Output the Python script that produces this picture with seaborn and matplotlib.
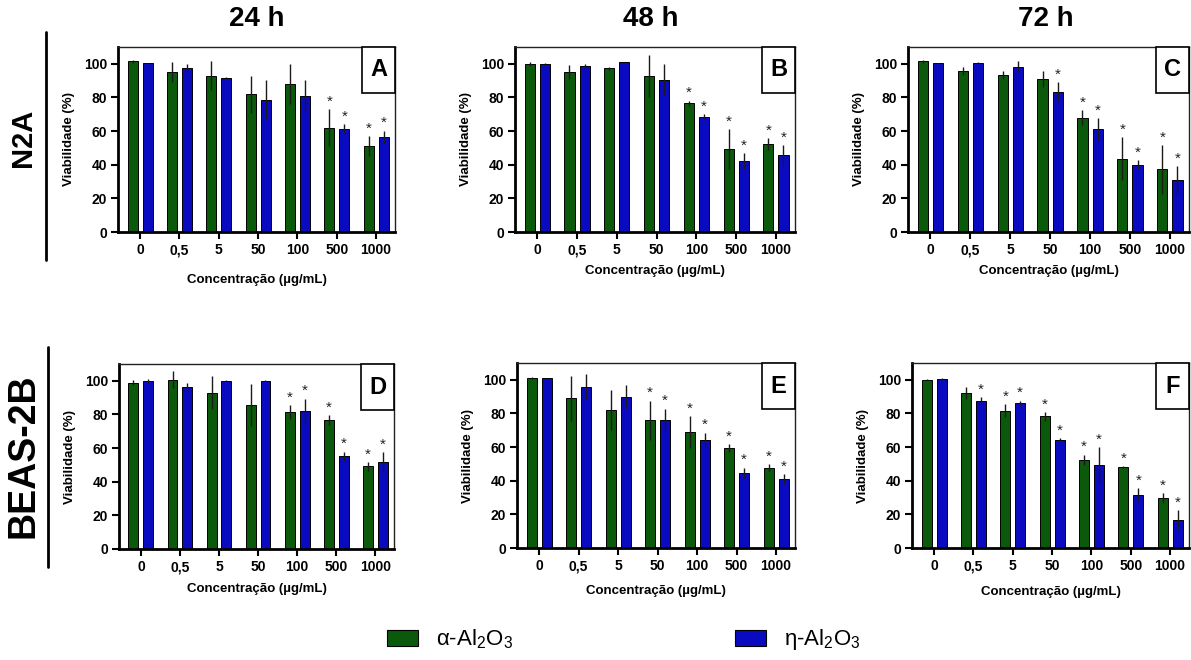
import numpy as np
import pandas as pd
import seaborn as sns
import matplotlib
matplotlib.use("Agg")
import matplotlib.pyplot as plt
from matplotlib.patches import Rectangle, Patch
from matplotlib.lines import Line2D

# ---------------- data ----------------
concs = ["0", "0,5", "5", "50", "100", "500", "1000"]
materials = ["alpha", "eta"]
legend_labels = ["α-Al$_2$O$_3$", "η-Al$_2$O$_3$"]

# N2A 24 h (A)
a_alpha = [101.5, 95.2, 93.0, 82.0, 88.0, 62.0, 51.0]
a_alpha_err = [0.8, 5.8, 8.5, 11.0, 12.0, 11.0, 6.0]
a_eta = [100.4, 97.8, 91.8, 78.7, 81.0, 61.5, 56.5]
a_eta_err = [0.3, 2.0, 0.5, 11.5, 9.5, 2.5, 3.8]
a_alpha_sig = [0, 0, 0, 0, 0, 1, 1]
a_eta_sig = [0, 0, 0, 0, 0, 1, 1]

# N2A 48 h (B)
b_alpha = [100.0, 95.2, 97.4, 93.0, 76.5, 49.2, 52.2]
b_alpha_err = [1.0, 4.0, 1.0, 12.5, 1.5, 12.0, 3.6]
b_eta = [100.0, 98.6, 101.0, 90.6, 68.5, 42.0, 45.8]
b_eta_err = [0.3, 1.5, 0.2, 9.4, 1.5, 4.8, 5.8]
b_alpha_sig = [0, 0, 0, 0, 1, 1, 1]
b_eta_sig = [0, 0, 0, 0, 1, 1, 1]

# N2A 72 h (C)
c_alpha = [101.4, 96.0, 93.4, 91.0, 68.0, 43.6, 37.2]
c_alpha_err = [0.8, 2.4, 2.2, 4.6, 4.5, 12.6, 14.4]
c_eta = [100.4, 100.6, 98.4, 83.5, 61.0, 40.0, 31.0]
c_eta_err = [0.3, 0.2, 3.0, 5.5, 6.5, 2.8, 8.2]
c_alpha_sig = [0, 0, 0, 0, 1, 1, 1]
c_eta_sig = [0, 0, 0, 1, 1, 1, 1]

# BEAS-2B 24 h (D)
d_alpha = [99.0, 100.6, 93.0, 85.7, 81.5, 76.5, 49.2]
d_alpha_err = [1.5, 5.0, 10.0, 12.7, 4.0, 3.0, 2.6]
d_eta = [100.0, 96.6, 100.0, 100.0, 82.0, 55.2, 51.6]
d_eta_err = [1.0, 2.4, 0.2, 0.2, 7.4, 2.6, 6.0]
d_alpha_sig = [0, 0, 0, 0, 1, 1, 1]
d_eta_sig = [0, 0, 0, 0, 1, 1, 1]

# BEAS-2B 48 h (E)
e_alpha = [101.0, 89.0, 82.0, 76.0, 69.0, 59.2, 47.7]
e_alpha_err = [0.5, 13.4, 12.0, 11.5, 9.5, 2.4, 2.0]
e_eta = [101.0, 96.0, 90.0, 76.0, 64.2, 44.7, 40.8]
e_eta_err = [0.2, 7.4, 6.8, 6.9, 4.4, 3.0, 3.0]
e_alpha_sig = [0, 0, 0, 1, 1, 1, 1]
e_eta_sig = [0, 0, 0, 1, 1, 1, 1]

# BEAS-2B 72 h (F)
f_alpha = [100.0, 92.0, 81.6, 78.2, 52.5, 48.1, 29.7]
f_alpha_err = [0.3, 3.6, 4.0, 2.6, 3.0, 0.5, 3.0]
f_eta = [100.6, 87.7, 86.1, 64.4, 49.5, 31.7, 16.8]
f_eta_err = [0.5, 2.0, 1.6, 1.0, 10.5, 4.0, 5.6]
f_alpha_sig = [0, 0, 1, 1, 1, 1, 1]
f_eta_sig = [0, 1, 1, 1, 1, 1, 1]

col_titles = ["24 h", "48 h", "72 h"]
row_titles = ["N2A", "BEAS-2B"]
panel_letters = ["A", "B", "C", "D", "E", "F"]
xlabel = "Concentração (µg/mL)"
ylabel = "Viabilidade (%)"

# ---------------- style ----------------
sns.set_style("ticks")
plt.rcParams["font.family"] = ["Liberation Sans", "DejaVu Sans"]
plt.rcParams["mathtext.fontset"] = "custom"
plt.rcParams["mathtext.rm"] = "Liberation Sans"
plt.rcParams["mathtext.it"] = "Liberation Sans:italic"
plt.rcParams["mathtext.bf"] = "Liberation Sans:bold"
plt.rcParams["text.color"] = "black"
plt.rcParams["axes.labelcolor"] = "black"
plt.rcParams["xtick.color"] = "black"
plt.rcParams["ytick.color"] = "black"

GREEN = "#0b5a0b"
BLUE = "#0a0ac0"
palette = {"alpha": GREEN, "eta": BLUE}

W, H = 1191, 660
fig = plt.figure(figsize=(W / 100, H / 100), dpi=100)

# left, top, right, bottom in pixels
boxes = [
    (118, 47, 395, 232),
    (515, 47, 795, 232),
    (908, 47, 1189, 232),
    (119, 364, 394, 549),
    (517, 363, 795, 548),
    (912, 363, 1189, 548),
]
labelpads = [12, 5.5, 5.5, 6.2, 8.6, 9.2]

panels = [
    (a_alpha, a_alpha_err, a_eta, a_eta_err, a_alpha_sig, a_eta_sig),
    (b_alpha, b_alpha_err, b_eta, b_eta_err, b_alpha_sig, b_eta_sig),
    (c_alpha, c_alpha_err, c_eta, c_eta_err, c_alpha_sig, c_eta_sig),
    (d_alpha, d_alpha_err, d_eta, d_eta_err, d_alpha_sig, d_eta_sig),
    (e_alpha, e_alpha_err, e_eta, e_eta_err, e_alpha_sig, e_eta_sig),
    (f_alpha, f_alpha_err, f_eta, f_eta_err, f_alpha_sig, f_eta_sig),
]

for i, (va, vae, ve, vee, sa, se) in enumerate(panels):
    l, t, r, b = boxes[i]
    ax = fig.add_axes([l / W, 1 - b / H, (r - l) / W, (b - t) / H])
    df = pd.DataFrame({
        "conc": concs * 2,
        "material": ["alpha"] * len(concs) + ["eta"] * len(concs),
        "value": list(va) + list(ve),
    })
    sns.barplot(data=df, x="conc", y="value", hue="material",
                order=concs, hue_order=materials, palette=palette,
                saturation=1, width=0.76, gap=0.33, errorbar=None,
                edgecolor="black", linewidth=0.7, legend=False, ax=ax,
                zorder=2)
    errs = [vae, vee]
    sigs = [sa, se]
    bar_conts = list(ax.containers)[:2]
    for k, cont in enumerate(bar_conts):
        xs = [p.get_x() + p.get_width() / 2 for p in cont]
        hs = [p.get_height() for p in cont]
        ax.errorbar(xs, hs, yerr=errs[k], fmt="none", ecolor="#1a1a1a",
                    elinewidth=1.0, capsize=0, zorder=3)
        for x, h, e, s in zip(xs, hs, errs[k], sigs[k]):
            if s:
                ax.text(x, h + e + 4.5, "*", ha="center", va="center",
                        fontsize=11, color="#222222", zorder=4)
    ax.set_xlim(-0.56, 6.48)
    ax.set_ylim(0, 110)
    ax.set_yticks([0, 20, 40, 60, 80, 100])
    ax.set_xlabel(xlabel, fontsize=9.5, fontweight="bold", labelpad=labelpads[i])
    ax.set_ylabel(ylabel, fontsize=9.5, fontweight="bold", labelpad=6)
    for lab in ax.get_xticklabels() + ax.get_yticklabels():
        lab.set_fontweight("bold")
        lab.set_fontsize(10)
    ax.tick_params(axis="both", direction="out", length=5, width=1.5,
                   color="black", labelcolor="black", pad=3)
    for sp in ["left", "bottom"]:
        ax.spines[sp].set_linewidth(2)
        ax.spines[sp].set_color("black")
    for sp in ["top", "right"]:
        ax.spines[sp].set_visible(True)
        ax.spines[sp].set_linewidth(1.0)
        ax.spines[sp].set_color("#222222")
    # panel letter box
    bw = 33 / (r - l)
    bh = 46 / (b - t)
    ax.add_patch(Rectangle((1 - bw, 1 - bh), bw, bh, transform=ax.transAxes,
                           facecolor="white", edgecolor="black", lw=1.2,
                           zorder=5, clip_on=False))
    ax.text(1 - bw / 2, 1 - bh / 2, panel_letters[i], transform=ax.transAxes,
            ha="center", va="center", fontsize=17, fontweight="bold",
            color="black", zorder=6)

# column titles
for x, txt in zip([257, 651, 1046], col_titles):
    fig.text(x / W, 1 - 19 / H, txt, ha="center", va="center",
             fontsize=20, fontweight="bold", color="black")

# row titles and lines
fig.text(23 / W, 1 - 138 / H, row_titles[0], ha="center", va="center",
         rotation=90, fontsize=21, fontweight="bold", color="black")
fig.text(23 / W, 1 - 456 / H, row_titles[1], ha="center", va="center",
         rotation=90, fontsize=27, fontweight="bold", color="black")
fig.add_artist(Line2D([46 / W, 46 / W], [1 - 32 / H, 1 - 260 / H],
                      color="black", lw=2))
fig.add_artist(Line2D([48 / W, 48 / W], [1 - 347 / H, 1 - 567 / H],
                      color="black", lw=2))

# legend
handles = [Patch(facecolor=palette[m], edgecolor="black", lw=0.8, label=lab)
           for m, lab in zip(materials, legend_labels)]
fig.legend(handles=handles, loc="center", bbox_to_anchor=(624 / W, 1 - 640 / H),
           ncol=2, frameon=False, fontsize=16, handlelength=1.4,
           handleheight=0.7, handletextpad=0.8, columnspacing=10,
           labelcolor="black")

fig.savefig("out.png", dpi=100)
